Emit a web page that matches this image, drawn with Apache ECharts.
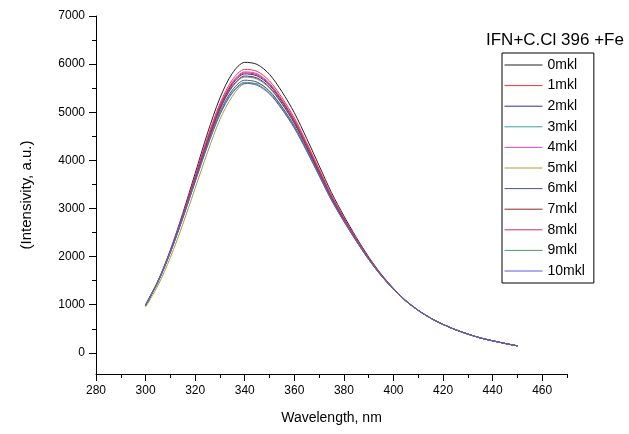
<!DOCTYPE html>
<html><head><meta charset="utf-8">
<script src="https://cdn.jsdelivr.net/npm/echarts@6/dist/echarts.min.js"></script>
<style>html,body{margin:0;padding:0;background:#fff}#c{width:629px;height:434px}</style>
</head><body><div id="c"></div>
<script>
const wavelengths = [300,305,310,315,320,325,330,335,340,345,350,355,360,365,370,375,380,385,390,395,400,405,410,415,420,425,430,435,440,445,450];
const s0  = [993,1493,2137,2899,3730,4568,5297,5809,6037,5994,5787,5427,4990,4454,3891,3329,2845,2399,1992,1638,1340,1086,886,723,592,482,391,311,251,196,146];
const s1  = [990,1485,2118,2863,3670,4479,5181,5673,5891,5849,5651,5305,4883,4366,3821,3276,2807,2373,1975,1627,1333,1082,884,722,591,481,390,310,250,195,145];
const s2  = [989,1480,2106,2839,3631,4421,5106,5584,5797,5755,5563,5225,4814,4309,3775,3242,2782,2356,1963,1620,1329,1080,883,721,591,480,389,309,249,194,144];
const s3  = [987,1477,2097,2823,3604,4380,5054,5523,5731,5690,5502,5170,4766,4269,3743,3218,2765,2344,1956,1615,1326,1078,882,721,590,480,390,310,250,195,145];
const s4  = [989,1483,2111,2850,3649,4447,5141,5625,5840,5799,5604,5262,4846,4335,3796,3257,2793,2363,1969,1623,1331,1081,883,722,591,481,391,311,250,196,146];
const s5  = [950,1400,1980,2670,3420,4170,4850,5330,5590,5600,5430,5100,4700,4210,3695,3180,2738,2325,1943,1607,1321,1075,880,720,590,480,390,310,250,195,145];
const s6  = [986,1473,2089,2806,3577,4340,5002,5461,5666,5625,5441,5115,4718,4230,3712,3194,2747,2332,1948,1610,1323,1077,881,720,590,480,390,310,250,195,145];
const s7  = [988,1478,2100,2828,3613,4394,5071,5543,5753,5712,5522,5188,4782,4282,3754,3226,2770,2348,1958,1617,1327,1079,882,721,590,480,390,310,250,195,145];
const s8  = [989,1482,2109,2845,3640,4434,5124,5605,5819,5777,5584,5244,4830,4322,3786,3250,2788,2360,1966,1622,1330,1081,883,722,591,481,390,310,250,195,145];
const s9  = [985,1471,2083,2795,3559,4313,4967,5420,5622,5582,5400,5078,4686,4203,3691,3178,2736,2324,1943,1607,1321,1075,880,720,590,480,390,310,250,195,145];
const s10 = [1010,1490,2090,2795,3552,4300,4950,5400,5600,5560,5380,5060,4670,4190,3680,3170,2730,2320,1940,1605,1320,1075,880,720,590,480,390,310,250,195,145];
const seriesNames = ['0mkl','1mkl','2mkl','3mkl','4mkl','5mkl','6mkl','7mkl','8mkl','9mkl','10mkl'];
const seriesData = [s0,s1,s2,s3,s4,s5,s6,s7,s8,s9,s10];
const colors = ['#222222','#ff3030','#2a2aa8','#3aa0a0','#e040e0','#a0a040','#505098','#902828','#d0306a','#40a060','#5a5ad8'];
const xMajor = [280,300,320,340,360,380,400,420,440,460];
const xMinor = [290,310,330,350,370,390,410,430,450,470];
const yMajor = [0,1000,2000,3000,4000,5000,6000,7000];
const yMinor = [500,1500,2500,3500,4500,5500,6500];

const FONT = 'Arial, "Liberation Sans", sans-serif';
const chart = echarts.init(document.getElementById('c'), null, {renderer:'canvas'});
const lineOn = {show:true, onZero:false, lineStyle:{color:'#000', width:1}};
const lineOff = {show:false, onZero:false};
chart.setOption({
  animation:false,
  backgroundColor:'#fff',
  title:{text:'IFN+C.Cl 396 +Fe', left:486, top:32, padding:0, textStyle:{fontFamily:FONT, fontSize:17, fontWeight:'normal', color:'#000'}},
  legend:{orient:'vertical', left:502, top:53, padding:[5,9,5,2], itemGap:6.6, itemWidth:38, itemHeight:14,
    borderColor:'#000', borderWidth:1, itemStyle:{opacity:0}, lineStyle:{width:1},
    textStyle:{fontFamily:FONT, fontSize:14, color:'#000'},
    data:seriesNames},
  grid:{left:96, right:62, top:16, bottom:60},
  xAxis:[
    {type:'value', min:280, max:470, position:'bottom', splitLine:{show:false}, axisLine:lineOn,
      name:'Wavelength, nm', nameLocation:'middle', nameGap:37, nameTextStyle:{fontFamily:FONT, fontSize:14, color:'#000'},
      axisTick:{show:true, inside:false, length:7, customValues:xMajor, lineStyle:{color:'#000'}},
      axisLabel:{show:true, margin:11, customValues:xMajor, fontFamily:FONT, fontSize:12, color:'#000', formatter:v=>String(v)}},
    {type:'value', min:280, max:470, position:'bottom', splitLine:{show:false}, axisLine:lineOff,
      axisTick:{show:true, inside:false, length:4, customValues:xMinor, lineStyle:{color:'#000'}},
      axisLabel:{show:false}}
  ],
  yAxis:[
    {type:'value', min:-440, max:7000, position:'left', splitLine:{show:false}, axisLine:lineOn,
      name:'(Intensivity, a.u.)', nameLocation:'middle', nameGap:62, nameTextStyle:{fontFamily:FONT, fontSize:15, color:'#000'},
      axisTick:{show:true, inside:false, length:7, customValues:yMajor, lineStyle:{color:'#000'}},
      axisLabel:{show:true, margin:11, customValues:yMajor, fontFamily:FONT, fontSize:12, color:'#000', formatter:v=>String(v)}},
    {type:'value', min:-440, max:7000, position:'left', splitLine:{show:false}, axisLine:lineOff,
      axisTick:{show:true, inside:false, length:4, customValues:yMinor, lineStyle:{color:'#000'}},
      axisLabel:{show:false}}
  ],
  series: seriesNames.map((n,i)=>({
    name:n, type:'line', xAxisIndex:0, yAxisIndex:0, symbol:'none', smooth:0.3,
    color:colors[i], lineStyle:{width:1, color:colors[i]},
    data: wavelengths.map((w,j)=>[w, seriesData[i][j]])
  }))
});
</script></body></html>
